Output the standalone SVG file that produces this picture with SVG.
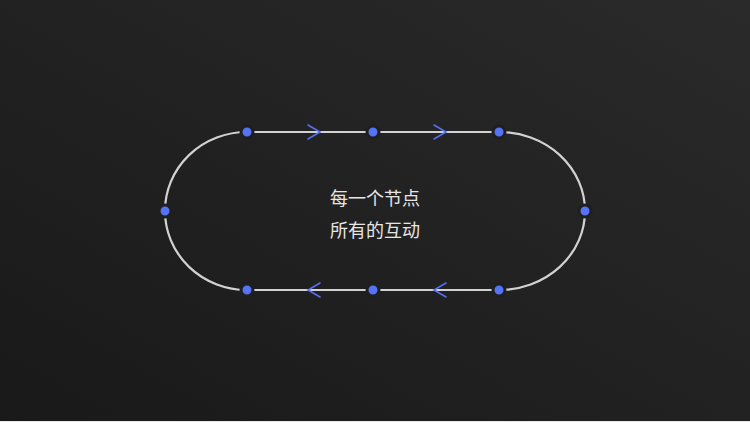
<svg xmlns="http://www.w3.org/2000/svg" width="750" height="422" viewBox="0 0 750 422">
<defs>
<linearGradient id="bg" x1="0" y1="1" x2="1" y2="0">
<stop offset="0" stop-color="#191919"/>
<stop offset="1" stop-color="#2a2a2a"/>
</linearGradient>
<style>
.track{fill:none;stroke:#d2d2d2;stroke-width:2.2}
.chev{fill:none;stroke:#5470f0;stroke-width:1.6;stroke-linecap:round;stroke-linejoin:miter}
.dot{fill:#5473f5;stroke:#1f1f1f;stroke-width:3}
.lbl{font-family:"Noto Sans CJK SC","Noto Sans",sans-serif;font-size:18px;fill:#e6e6e6;text-anchor:middle}
</style>
</defs>
<rect width="750" height="422" fill="url(#bg)"/>
<rect x="0" y="421" width="750" height="1" fill="#e8e8e8"/>
<g id="connectors">
<path class="track" d="M247,132 H499 A86,79 0 0 1 585,211 A86,79 0 0 1 499,290 H247 A82,79 0 0 1 165,211 A82,79 0 0 1 247,132 Z"/>
<path class="chev" d="M308,125 L320,132 L308,139"/>
<path class="chev" d="M434,125 L446,132 L434,139"/>
<path class="chev" d="M446,283 L434,290 L446,297"/>
<path class="chev" d="M320,283 L308,290 L320,297"/>
</g>
<g id="node-top-left"><circle class="dot" cx="247" cy="132" r="6"/></g>
<g id="node-top-mid"><circle class="dot" cx="373" cy="132" r="6"/></g>
<g id="node-top-right"><circle class="dot" cx="499" cy="132" r="6"/></g>
<g id="node-right"><circle class="dot" cx="585" cy="211" r="6"/></g>
<g id="node-bottom-right"><circle class="dot" cx="499" cy="290" r="6"/></g>
<g id="node-bottom-mid"><circle class="dot" cx="373" cy="290" r="6"/></g>
<g id="node-bottom-left"><circle class="dot" cx="247" cy="290" r="6"/></g>
<g id="node-left"><circle class="dot" cx="165" cy="211" r="6"/></g>
<g id="label">
<text class="lbl" x="375" y="205">每一个节点</text>
<text class="lbl" x="375" y="237">所有的互动</text>
</g>
</svg>
